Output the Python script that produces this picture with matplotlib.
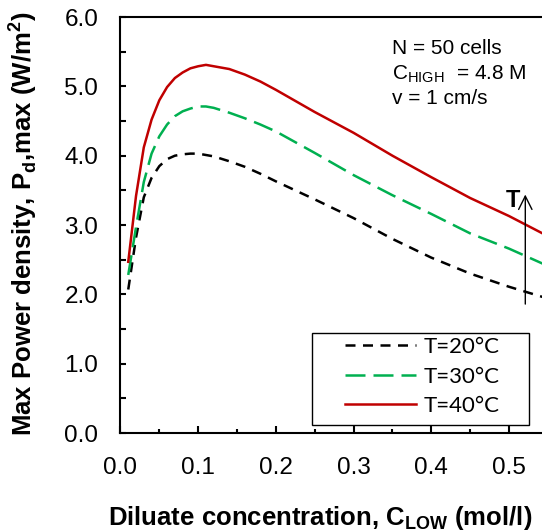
import matplotlib
matplotlib.use("Agg")
import matplotlib.pyplot as plt
from matplotlib.ticker import MultipleLocator, FormatStrFormatter
from matplotlib.patches import Rectangle

plt.rcParams['font.family'] = ['Liberation Sans', 'DejaVu Sans']
plt.rcParams['mathtext.fontset'] = 'custom'
plt.rcParams['mathtext.rm'] = 'Liberation Sans'
plt.rcParams['mathtext.bf'] = 'Liberation Sans:bold'

# diluate concentration C_LOW (mol/l)
c_low = [0.01, 0.02, 0.03, 0.04, 0.05, 0.06, 0.07, 0.08, 0.09, 0.10, 0.11, 0.12,
         0.14, 0.16, 0.18, 0.20, 0.25, 0.30, 0.35, 0.40, 0.45, 0.50, 0.55]

# max power density (W/m2) for each temperature
p_20 = [2.07, 2.82, 3.40, 3.68, 3.85, 3.95, 4.00, 4.02, 4.03, 4.03, 4.01, 3.99,
        3.92, 3.84, 3.74, 3.63, 3.37, 3.10, 2.80, 2.53, 2.30, 2.11, 1.94]
p_30 = [2.28, 2.97, 3.62, 4.03, 4.28, 4.45, 4.57, 4.64, 4.68, 4.71, 4.71, 4.69,
        4.62, 4.54, 4.45, 4.35, 4.04, 3.72, 3.43, 3.16, 2.88, 2.66, 2.41]
p_40 = [2.47, 3.42, 4.12, 4.52, 4.80, 4.99, 5.12, 5.20, 5.26, 5.29, 5.31, 5.29,
        5.25, 5.17, 5.07, 4.95, 4.63, 4.33, 4.00, 3.69, 3.39, 3.13, 2.84]

labels = ["T=20°C", "T=30°C", "T=40°C"]

fig = plt.figure(figsize=(5.42, 5.32), dpi=100)
ax = fig.add_axes([0.2223, 0.186, 0.7777, 0.782])

lw = 1.8
l1, = ax.plot(c_low, p_20, color='black', lw=lw, dashes=(4, 3))
l2, = ax.plot(c_low, p_30, color='#00B050', lw=lw, dashes=(8, 3.2))
l3, = ax.plot(c_low, p_40, color='#C00000', lw=lw)

ax.set_xlim(0, 0.5425)
ax.set_ylim(0, 6.0)
ax.xaxis.set_major_locator(MultipleLocator(0.1))
ax.xaxis.set_minor_locator(MultipleLocator(0.05))
ax.yaxis.set_major_locator(MultipleLocator(1.0))
ax.yaxis.set_minor_locator(MultipleLocator(0.5))
ax.xaxis.set_major_formatter(FormatStrFormatter('%.1f'))
ax.yaxis.set_major_formatter(FormatStrFormatter('%.1f'))

ax.tick_params(which='both', direction='in', width=1.5, labelsize=17.5, top=False, right=False)
ax.tick_params(axis='x', which='major', length=5, pad=17)
ax.tick_params(axis='x', which='minor', length=3)
ax.tick_params(axis='y', which='both', length=4.5, pad=16)

for s in ['left', 'bottom', 'top']:
    ax.spines[s].set_linewidth(1.5)
ax.spines['right'].set_visible(False)

fig.text(0.041, 0.58, r'Max Power density, P$_{\mathbf{d}}$,max (W/m$^{\mathbf{2}}$)',
         rotation=90, fontsize=18.5, fontweight='bold', ha='center', va='center')
fig.text(0.59, 0.026, r'Diluate concentration, C$_{\mathbf{LOW}}$ (mol/l)',
         fontsize=18.5, fontweight='bold', ha='center', va='center')

# parameter notes
ax.text(0.349, 5.55, 'N = 50 cells', fontsize=15, ha='left', va='center')
ax.text(0.349, 5.18, r'C$_{\mathrm{HIGH}}$  = 4.8 M', fontsize=15, ha='left', va='center')
ax.text(0.349, 4.82, 'v = 1 cm/s', fontsize=15, ha='left', va='center')

# temperature arrow
ax.annotate('', xy=(0.521, 3.48), xytext=(0.521, 1.82),
            arrowprops=dict(arrowstyle='->', color='black', lw=1.0, mutation_scale=24))
ax.text(0.505, 3.36, 'T', fontsize=17, fontweight='bold', ha='center', va='center')

leg = ax.legend([l1, l2, l3], labels, loc='lower left', bbox_to_anchor=(0.512, 0.02),
                frameon=False, prop={'family': 'Lato', 'size': 16},
                handlelength=3.2, handletextpad=0.35, labelspacing=0.42, borderaxespad=0)
ax.add_patch(Rectangle((0.454, 0.019), 0.515, 0.221, transform=ax.transAxes,
                       fill=False, edgecolor='black', lw=1.0, zorder=5, clip_on=False))

fig.savefig("out.png", dpi=100)
